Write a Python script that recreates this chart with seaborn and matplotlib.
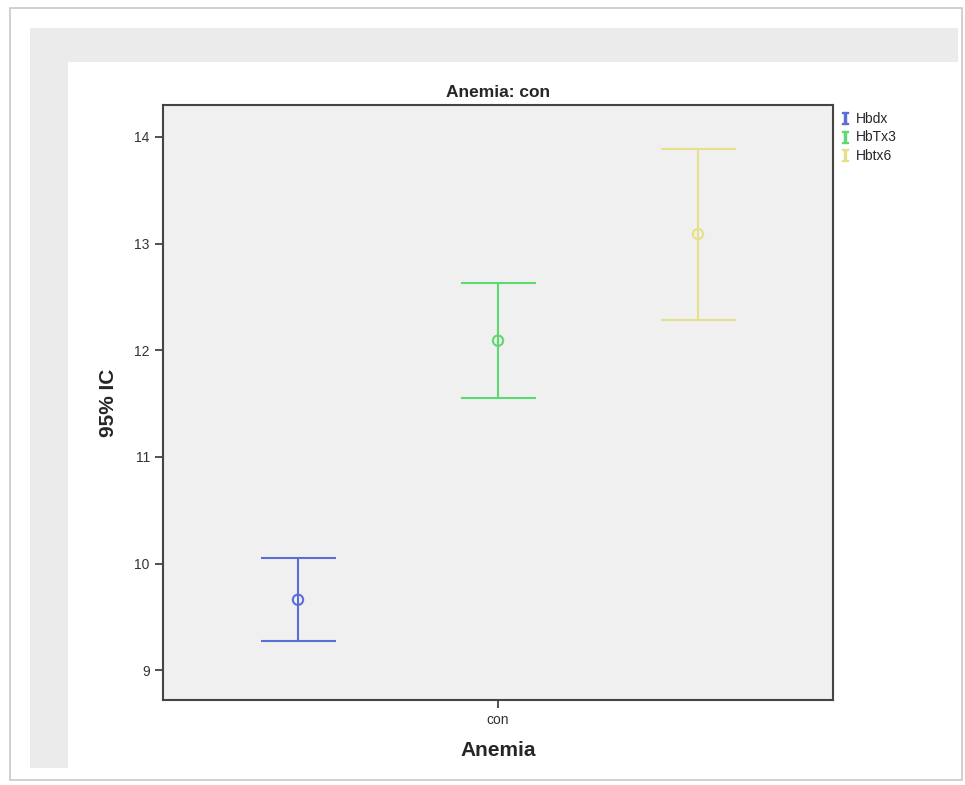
import matplotlib
matplotlib.use("Agg")
import matplotlib.pyplot as plt
from matplotlib.patches import Rectangle
from matplotlib.lines import Line2D
import pandas as pd
import seaborn as sns

# datos (IC 95%)
series = ["Hbdx", "HbTx3", "Hbtx6"]
medias = [9.66, 12.09, 13.09]
inferior = [9.27, 11.55, 12.28]
superior = [10.05, 12.63, 13.89]
offset = [-1, 0, 1]
colores = ["#5b6ed8", "#5ed870", "#e6e08a"]

df = pd.DataFrame({"serie": series, "media": medias, "lo": inferior,
                   "hi": superior, "pos": offset})

sns.set_style("white")
plt.rcParams["font.family"] = ["Liberation Sans", "DejaVu Sans"]

fig = plt.figure(figsize=(9.65, 7.85), dpi=100)
W, H = 965, 785

# marco tipo captura de pantalla
fig.patches.append(Rectangle((10 / W, 1 - 780 / H), 952 / W, 772 / H,
                             transform=fig.transFigure, fill=False,
                             edgecolor="#c8c8c8", lw=1.2))
fig.patches.append(Rectangle((30 / W, 1 - 62 / H), 928 / W, 34 / H,
                             transform=fig.transFigure, color="#ebebeb", lw=0))
fig.patches.append(Rectangle((30 / W, 1 - 768 / H), 38 / W, 706 / H,
                             transform=fig.transFigure, color="#ebebeb", lw=0))

ax = fig.add_axes([163 / W, 1 - 700 / H, 670 / W, 595 / H])
ax.set_facecolor("#f0f0f0")

sns.scatterplot(data=df, x="pos", y="media", hue="serie", palette=colores,
                marker="o", s=55, linewidth=1.5, legend=False, ax=ax,
                zorder=3)
# circulos huecos
puntos = ax.collections[0]
puntos.set_facecolor("none")
puntos.set_edgecolor(colores)

for i, row in df.iterrows():
    ax.errorbar(row["pos"], row["media"],
                yerr=[[row["media"] - row["lo"]], [row["hi"] - row["media"]]],
                fmt="none", ecolor=colores[i], elinewidth=1.5,
                capsize=27, capthick=1.5)

ax.set_xlim(-1.675, 1.675)
ax.set_ylim(8.72, 14.30)
ax.set_yticks([9, 10, 11, 12, 13, 14])
ax.set_xticks([0])
ax.set_xticklabels(["con"])
ax.tick_params(axis="both", direction="out", length=6, width=1.2,
               colors="#333333", labelsize=10, left=True, bottom=True)
for s in ax.spines.values():
    s.set_color("#444444")
    s.set_linewidth(1.5)

ax.set_title("Anemia: con", fontsize=12.5, fontweight="bold", pad=6)
ax.set_xlabel("Anemia", fontsize=15, fontweight="bold", labelpad=10)
ax.set_ylabel("95% IC", fontsize=15, fontweight="bold", labelpad=12)

handles = [Line2D([], [], linestyle="none", marker=r"$\mathtt{I}$",
                  color=c, markersize=9) for c in colores]
fig.legend(handles, series, loc="upper left",
           bbox_to_anchor=(834 / W, 1 - 106 / H), frameon=False,
           fontsize=10, handlelength=0.8, handletextpad=0.4,
           labelspacing=0.35, borderaxespad=0)

fig.savefig("out.png", dpi=100)
